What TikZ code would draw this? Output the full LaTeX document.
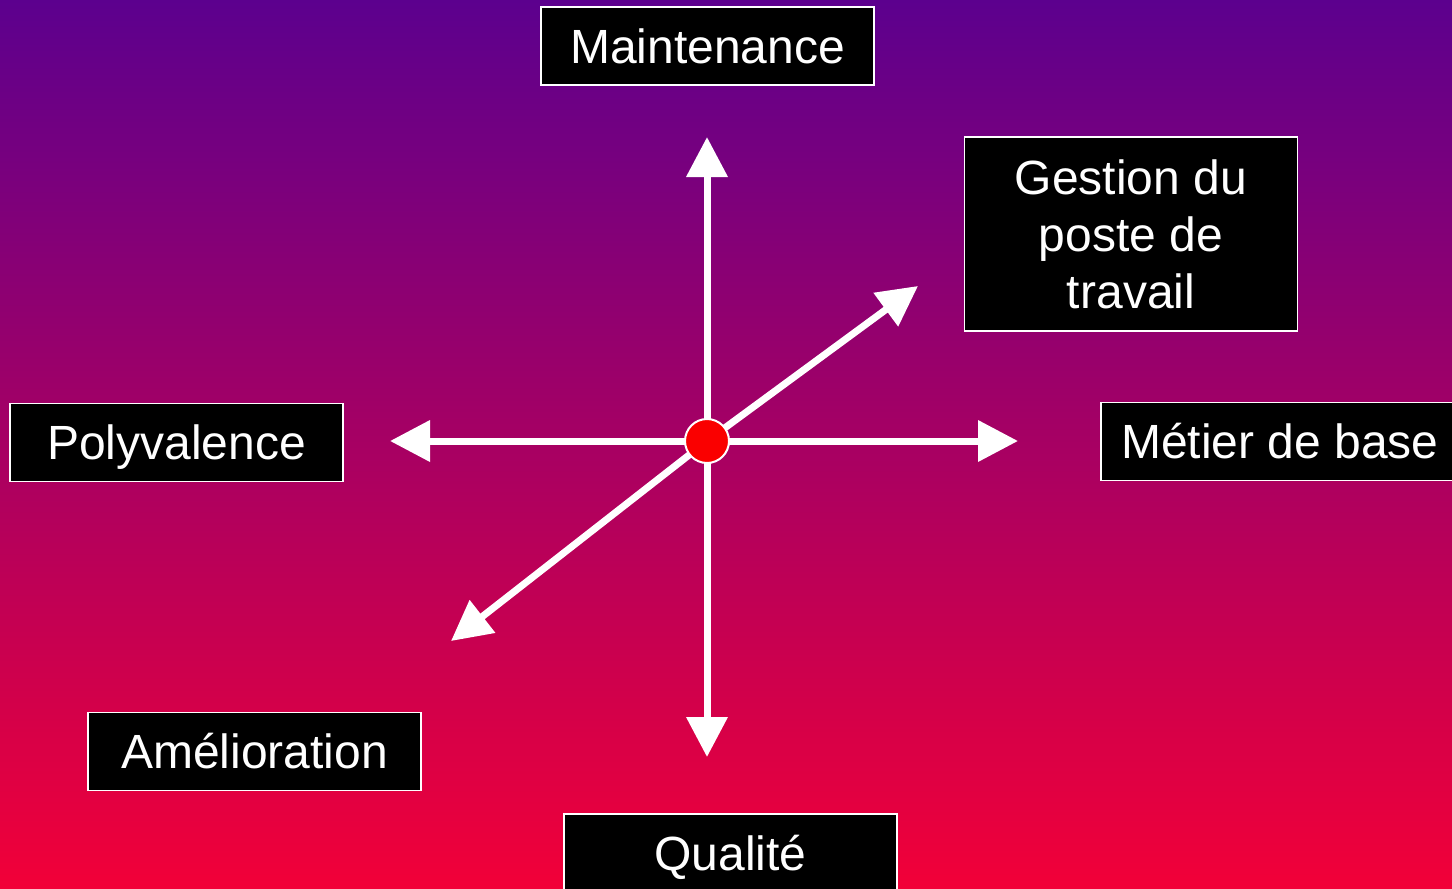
\documentclass[tikz,border=0pt]{standalone}
\usepackage{fontspec}
\setmainfont{Liberation Sans}
\usetikzlibrary{arrows.meta}
\definecolor{topviolet}{RGB}{92,0,142}
\definecolor{bottomred}{RGB}{242,0,56}
\definecolor{dotred}{RGB}{250,0,0}
\tikzset{
  label box/.style={draw=white, line width=0.8pt, fill=black, text=white,
    font=\fontsize{24}{28.5}\selectfont, minimum width=166.5pt,
    minimum height=39pt, inner sep=0pt, align=center},
  one line/.style={text height=17.2pt, text depth=0pt},
  axis arrow/.style={white, line width=3.5pt,
    -{Triangle[length=20pt, width=20pt]}, shorten >=0pt},
  hub dot/.style={circle, draw=white, line width=1pt, fill=dotred,
    minimum size=22pt, inner sep=0pt}
}
\begin{document}
\begin{tikzpicture}[x=0.5pt, y=-0.5pt]
      % Background (gradient)
      \shade[top color=topviolet, bottom color=bottomred] (0,0) rectangle (1452,889);
      \useasboundingbox (0,0) rectangle (1452,889);

      % Labels
      \node[label box, one line] (maint) at (707.5,46) {Maintenance};
      \node[label box, minimum height=97pt] (gestion) at (1131,234) {Gestion du\\poste de\\travail};
      \node[label box, one line] (poly) at (176.5,442.5) {Polyvalence};
      \node[label box, one line, minimum width=179pt] (metier) at (1280,441.5) {Métier de base};
      \node[label box, one line] (amelio) at (254.5,751.5) {Amélioration};
      \node[label box, one line] (qualite) at (730.5,853) {Qualité};

      % Arrow ends
      \coordinate (hub) at (707,441);
      \coordinate (tipN) at (707,137);
      \coordinate (tipS) at (707,757);
      \coordinate (tipW) at (390,441);
      \coordinate (tipE) at (1018,441);
      \coordinate (tipNE) at (918,286);
      \coordinate (tipSW) at (451,641);

      % Arrows (all from the hub)
      \draw[axis arrow] (hub) -- (tipN);
      \draw[axis arrow] (hub) -- (tipS);
      \draw[axis arrow] (hub) -- (tipW);
      \draw[axis arrow] (hub) -- (tipE);
      \draw[axis arrow] (hub) -- (tipNE);
      \draw[axis arrow] (hub) -- (tipSW);

      % Red dot on top
      \node[hub dot] (dot) at (hub) {};
    \end{tikzpicture}
\end{document}
